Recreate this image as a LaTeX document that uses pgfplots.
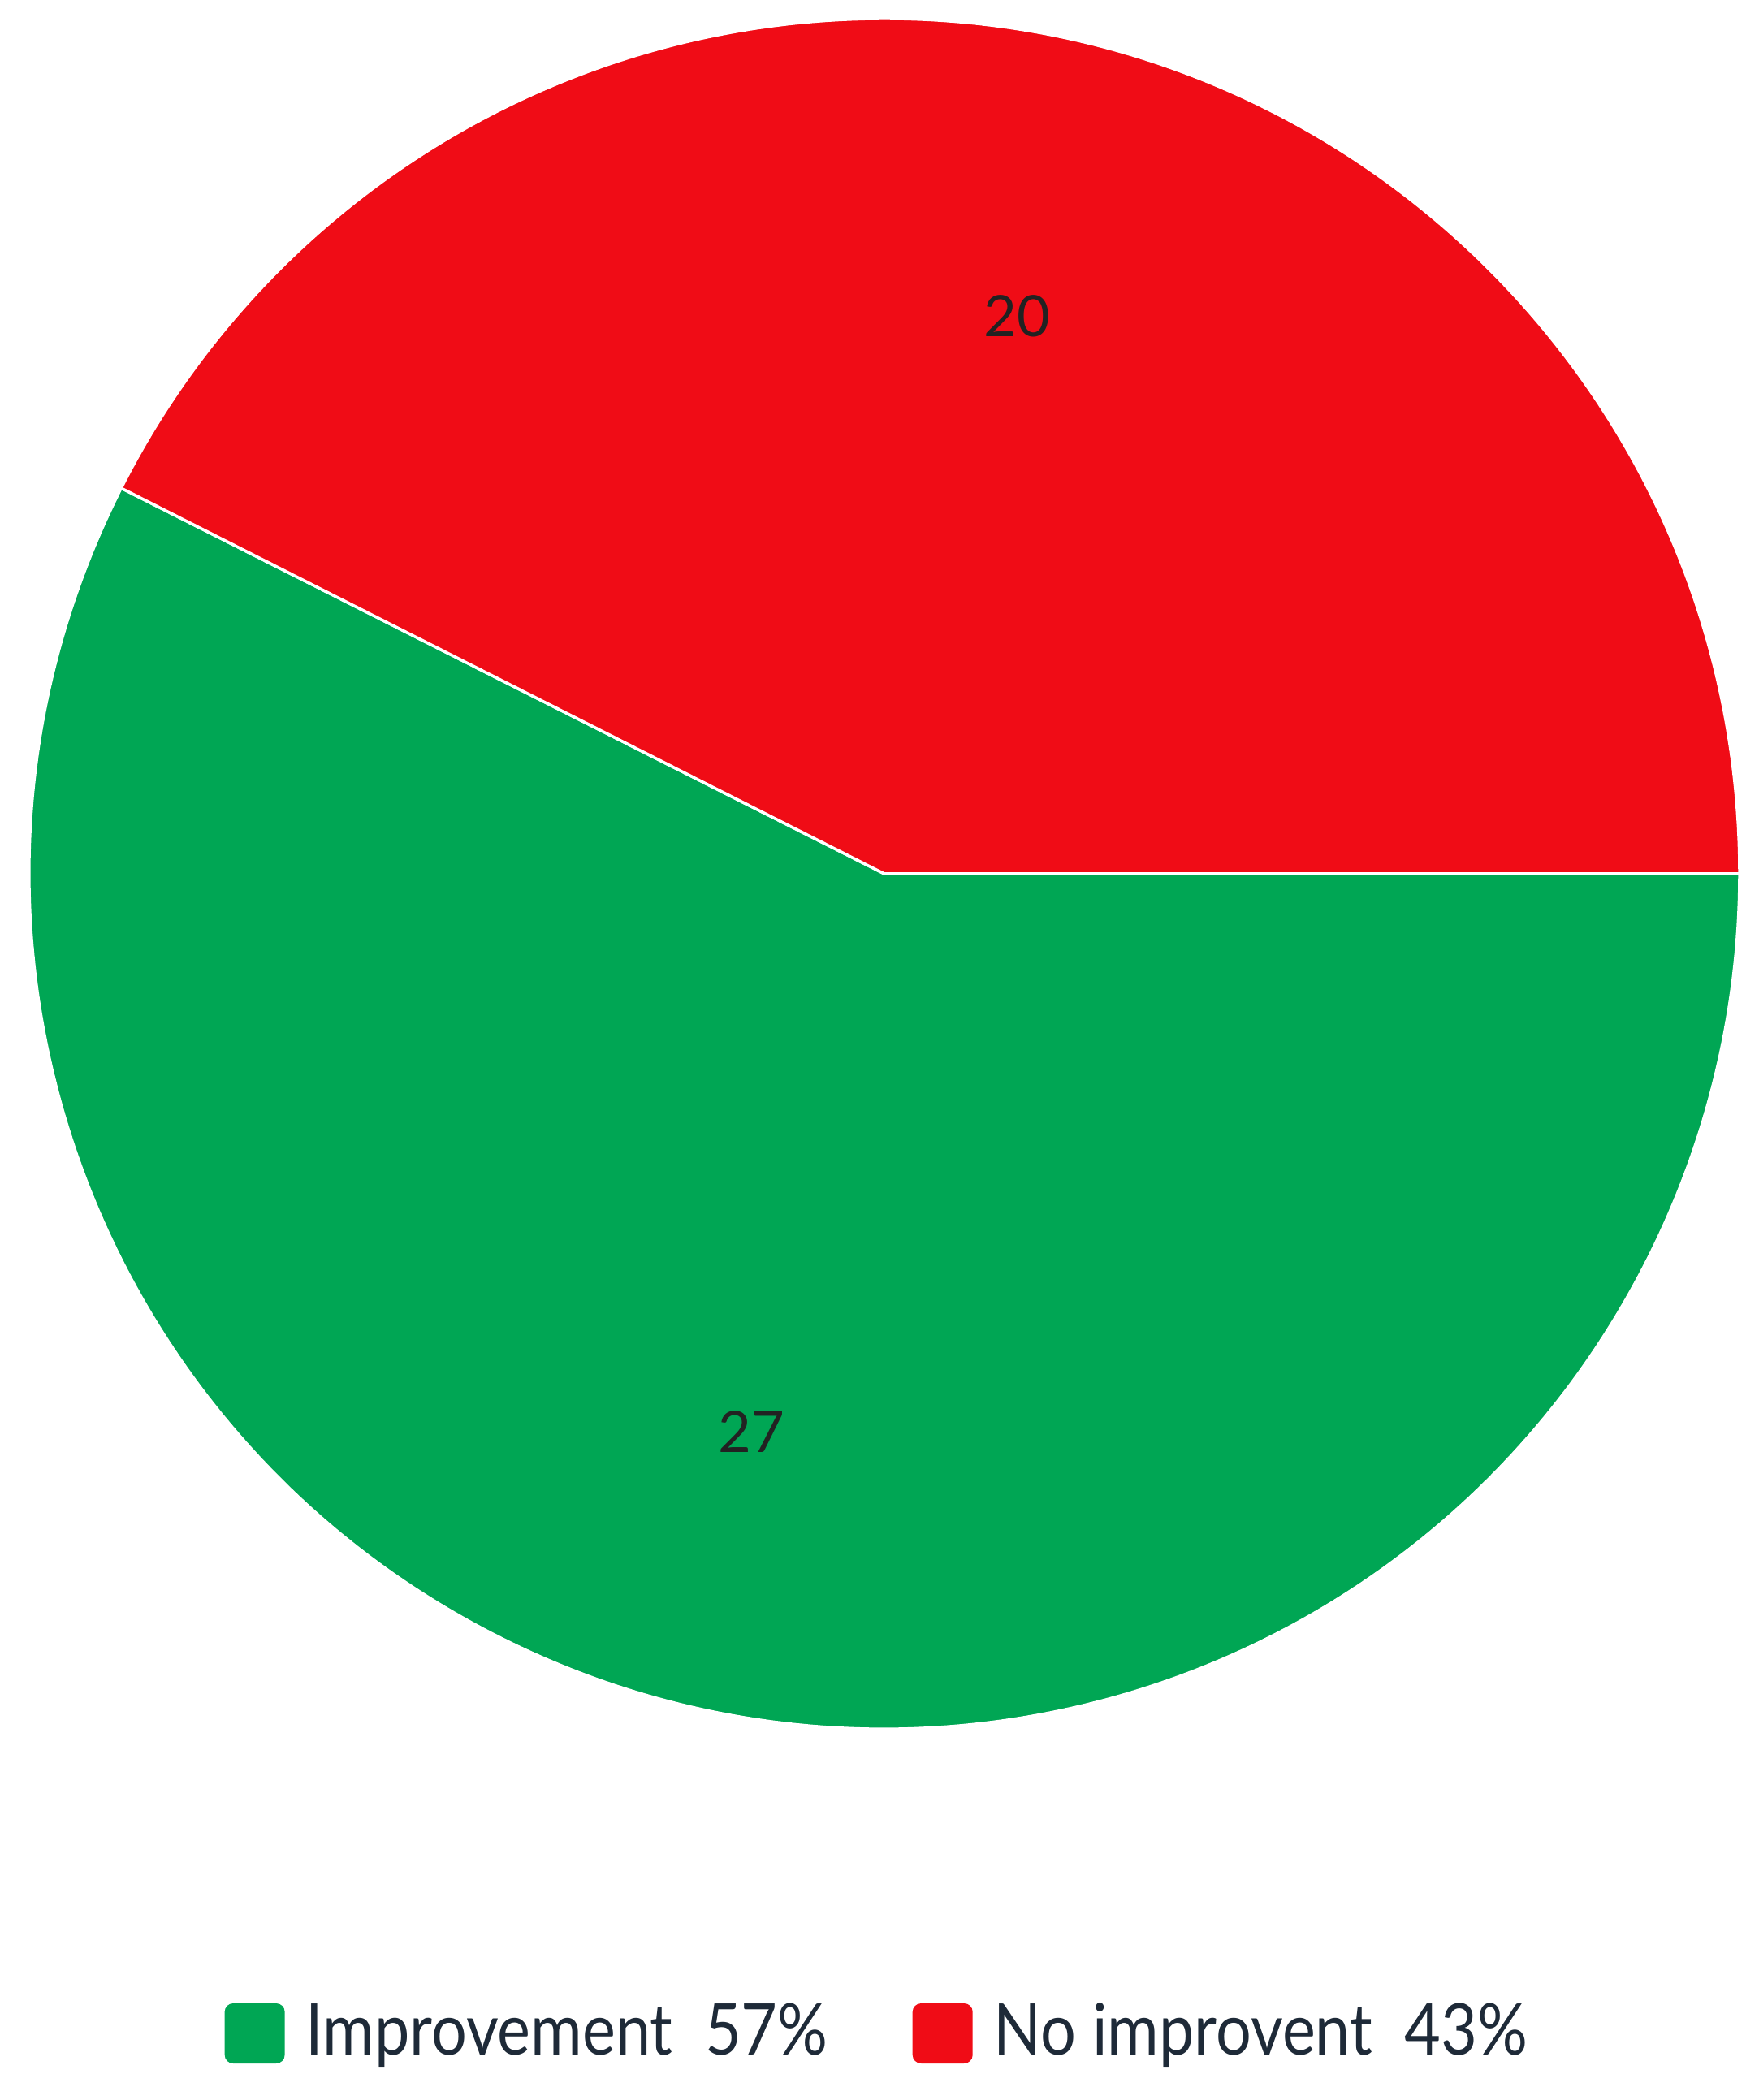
\documentclass[border=0pt]{standalone}
\usepackage{pgfplots}
\usepackage{pgfplotstable}
\pgfplotsset{compat=1.18}
\usepackage{fontspec}
\setmainfont{Lato}
\newfontfamily\legfont{Lato}[FakeStretch=0.88]

\definecolor{pieGreen}{RGB}{0,166,84}
\definecolor{pieRed}{RGB}{240,12,22}
\definecolor{legText}{RGB}{30,42,56}
\definecolor{numText}{RGB}{34,34,34}

% slice values
\pgfplotstableread{
label value
Improvement 27
NoImprovent 20
}\piedata
\pgfplotstablegetelem{0}{value}\of\piedata \let\vGreen\pgfplotsretval
\pgfplotstablegetelem{1}{value}\of\piedata \let\vRed\pgfplotsretval
\pgfmathsetmacro\total{\vGreen+\vRed}
\pgfmathsetmacro\aRed{360*\vRed/\total}
\pgfmathsetmacro\mRed{\aRed/2}
\pgfmathsetmacro\mGreen{(\aRed+360)/2}
\def\R{5.265cm}

\begin{document}
\begin{tikzpicture}
\begin{axis}[
    x=1cm, y=1cm,
    xmin=0, xmax=10.83, ymin=0, ymax=12.93,
    hide axis, clip=false,
    legend columns=2,
    legend style={draw=none, fill=none, at={(axis cs:5.43,0.41)}, anchor=center,
        font=\legfont\fontsize{12.5}{15}\selectfont, text=legText,
        /tikz/every odd column/.append style={column sep=0.06cm},
        /tikz/every even column/.append style={column sep=0.45cm}},
    legend cell align=left,
    legend image code/.code={\fill[#1, rounded corners=1.5pt] (0cm,-0.185cm) rectangle (0.37cm,0.185cm);},
]
\fill[pieGreen, draw=white, line width=0.5pt] (axis cs:5.445,7.55) -- ++(\aRed:\R)
    arc[start angle=\aRed, end angle=360, radius=\R] -- cycle;
\fill[pieRed, draw=white, line width=0.5pt] (axis cs:5.445,7.55) -- ++(0:\R)
    arc[start angle=0, end angle=\aRed, radius=\R] -- cycle;
\node[text=numText, font=\fontsize{10}{12}\selectfont] at ([shift={(\mRed:3.53cm)}]axis cs:5.445,7.55) {\vRed};
\node[text=numText, font=\fontsize{10}{12}\selectfont] at ([shift={(\mGreen:3.53cm)}]axis cs:5.445,7.55) {\vGreen};
\addlegendimage{fill=pieGreen, draw=none}
\addlegendentry{Improvement\ \ 57\%}
\addlegendimage{fill=pieRed, draw=none}
\addlegendentry{No improvent\ \ 43\%}
\end{axis}
\pgfresetboundingbox
\path (0,0) rectangle (10.83,12.93);
\end{tikzpicture}
\end{document}
